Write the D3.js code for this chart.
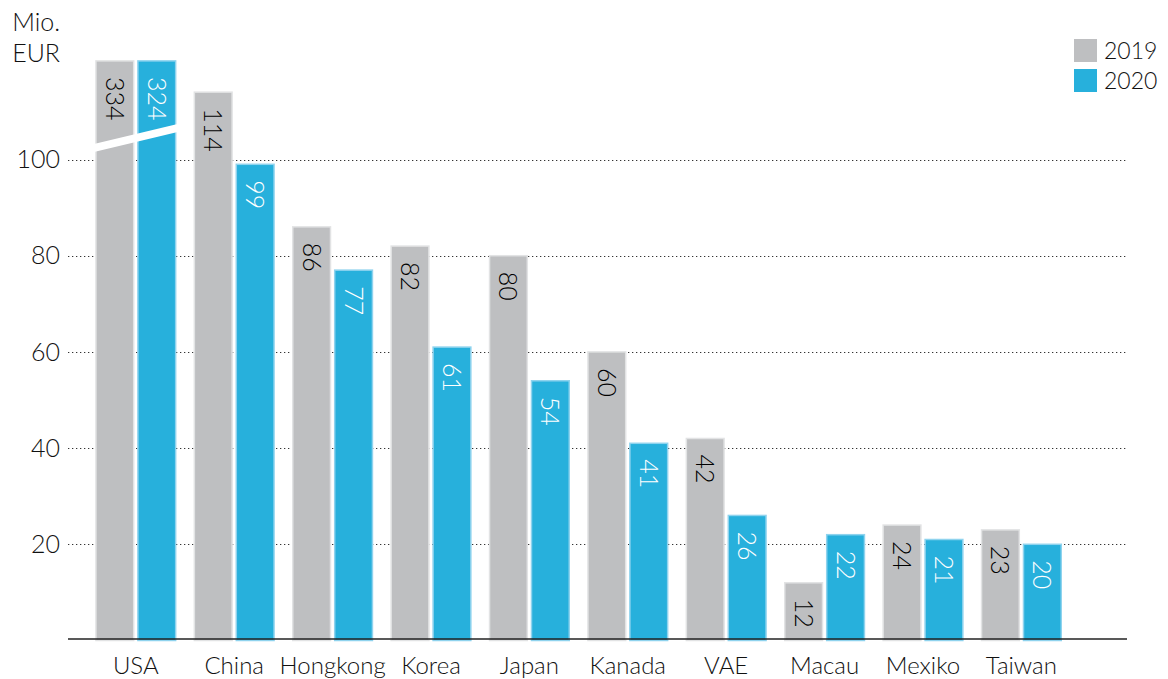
<!DOCTYPE html>
<html>
<head>
<meta charset="UTF-8">
<script src="https://cdn.jsdelivr.net/npm/d3@7"></script>
<style>
  body { margin: 0; background: #fff; }
  text { font-family: Lato, "Noto Sans", sans-serif; font-weight: 300; fill: #111; }
</style>
</head>
<body>
<svg width="1168" height="679"></svg>
<script>
// data
var countries = ["USA", "China", "Hongkong", "Korea", "Japan", "Kanada", "VAE", "Macau", "Mexiko", "Taiwan"];
var years = ["2019", "2020"];
var values2019 = [334, 114, 86, 82, 80, 60, 42, 12, 24, 23];
var values2020 = [324, 99, 77, 61, 54, 41, 26, 22, 21, 20];
var yTicks = [20, 40, 60, 80, 100];
var axisCap = 120.5; // USA bars are cut off here

var colors = { "2019": "#bebfc1", "2020": "#27b0dc" };
var edges = { "2019": "#e2e3e4", "2020": "#8fd3ee" };
var textColors = { "2019": "#000", "2020": "#ffffff" };

var svg = d3.select("svg");

var x = d3.scaleBand().domain(countries).range([86.6, 1070.6])
  .paddingInner(0.19).paddingOuter(0.095);
var xs = d3.scaleBand().domain(years).range([0, x.bandwidth()]).paddingInner(0.1);
var y = d3.scaleLinear().domain([0, 100]).range([640.5, 159.5]);

// grid
svg.append("g").selectAll("line").data(yTicks).enter().append("line")
  .attr("x1", 68).attr("x2", 1128)
  .attr("y1", function(d) { return Math.round(y(d)) + 0.5; })
  .attr("y2", function(d) { return Math.round(y(d)) + 0.5; })
  .attr("stroke", "#333").attr("stroke-width", 1.2)
  .attr("stroke-dasharray", "1.3,2.7");

svg.append("g").selectAll("text").data(yTicks).enter().append("text")
  .attr("x", 60).attr("y", function(d) { return y(d); })
  .attr("dy", "0.35em").attr("text-anchor", "end")
  .attr("font-size", "25px").text(function(d) { return d; });

svg.append("text").attr("x", 60).attr("y", 31).attr("text-anchor", "end")
  .attr("font-size", "25px").text("Mio.");
svg.append("text").attr("x", 60).attr("y", 62).attr("text-anchor", "end")
  .attr("font-size", "25px").text("EUR");

// bars
var rows = [];
countries.forEach(function(c, i) {
  rows.push({ country: c, year: "2019", value: values2019[i] });
  rows.push({ country: c, year: "2020", value: values2020[i] });
});

function bx(d) { return x(d.country) + xs(d.year); }
function bv(d) { return Math.min(d.value, axisCap); }

svg.append("g").selectAll("rect").data(rows).enter().append("rect")
  .attr("x", bx)
  .attr("y", function(d) { return y(bv(d)); })
  .attr("width", xs.bandwidth())
  .attr("height", function(d) { return y(0) - y(bv(d)); })
  .attr("fill", function(d) { return colors[d.year]; })
  .attr("stroke", function(d) { return edges[d.year]; })
  .attr("stroke-width", 1.5);

// break on the USA bars
var x0 = x("USA") - 2, x1 = x("USA") + x.bandwidth() + 2;
svg.append("polygon")
  .attr("points", [[x0, 144], [x1, 124], [x1, 132], [x0, 152]].join(" "))
  .attr("fill", "#fff");

// value labels
svg.append("g").selectAll("text").data(rows).enter().append("text")
  .attr("transform", function(d) {
    return "translate(" + (bx(d) + xs.bandwidth() / 2) + "," + (y(bv(d)) + 16) + ") rotate(90)";
  })
  .attr("dy", "0.36em")
  .attr("font-size", "25px")
  .style("fill", function(d) { return textColors[d.year]; })
  .text(function(d) { return d.value; });

// axis baseline
svg.append("line").attr("x1", 68).attr("x2", 1127).attr("y1", 639).attr("y2", 639)
  .attr("stroke", "#222").attr("stroke-width", 1.6);

svg.append("g").selectAll("text").data(countries).enter().append("text")
  .attr("x", function(d) { return x(d) + x.bandwidth() / 2; })
  .attr("y", 674).attr("text-anchor", "middle")
  .attr("font-size", "24px").text(function(d) { return d; });

// legend
var leg = svg.append("g").selectAll("g").data(years).enter().append("g")
  .attr("transform", function(d, i) { return "translate(1074," + (39 + i * 30) + ")"; });
leg.append("rect").attr("width", 23).attr("height", 23)
  .attr("fill", function(d) { return colors[d]; });
leg.append("text").attr("x", 30).attr("y", 12).attr("dy", "0.35em")
  .attr("font-size", "23px").text(function(d) { return d; });
</script>
</body>
</html>
